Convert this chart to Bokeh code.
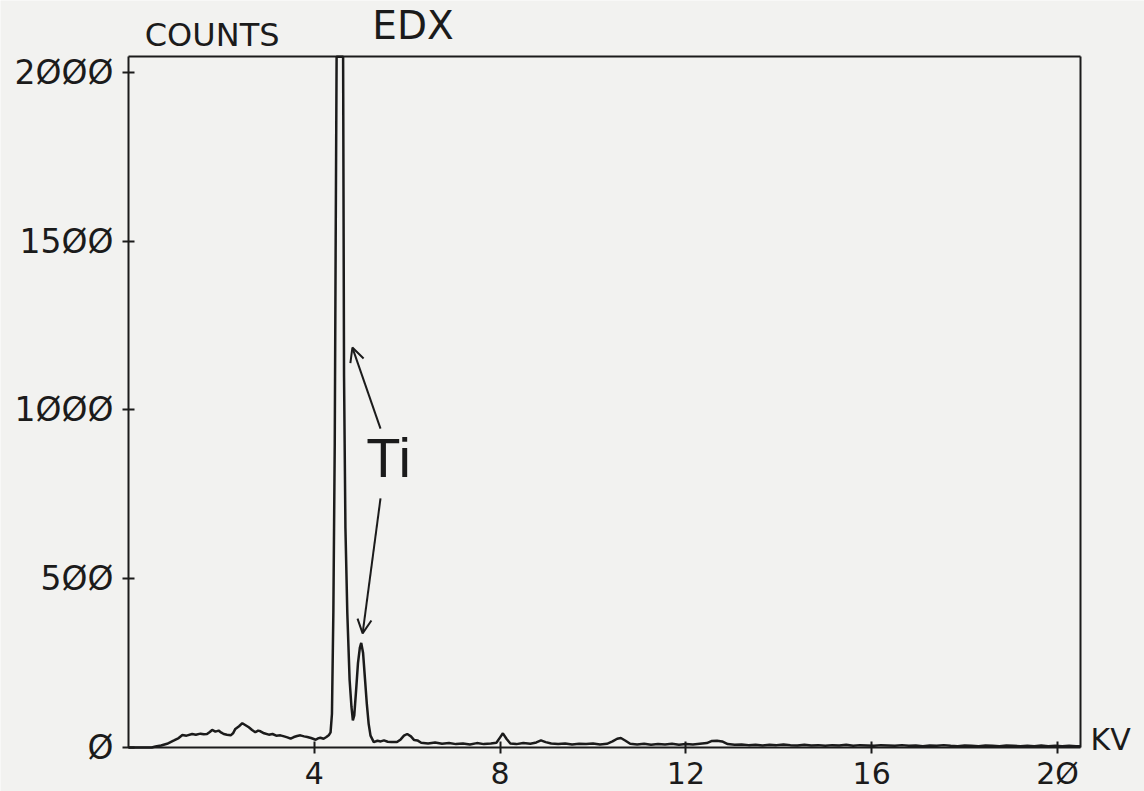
import numpy as np
from bokeh.plotting import figure
from bokeh.models import Label, Arrow, OpenHead, FixedTicker, LinearAxis
from bokeh.embed import file_html
from bokeh.resources import INLINE

# ---- data (energy in keV, counts) ----
energy = [0.0, 0.50, 0.58, 0.70, 0.83, 0.98, 1.08, 1.16, 1.25, 1.37, 1.45, 1.55, 1.62, 1.69,
          1.75, 1.80, 1.87, 1.94, 2.00, 2.05, 2.12, 2.20, 2.25, 2.30, 2.38, 2.45, 2.52, 2.59,
          2.66, 2.73, 2.79, 2.84, 2.92, 3.02, 3.10, 3.18, 3.27, 3.35, 3.42, 3.49, 3.56, 3.63,
          3.70, 3.78, 3.85, 3.93, 4.03, 4.08, 4.13, 4.20, 4.26, 4.31, 4.35, 4.38, 4.41, 4.44,
          4.46, 4.48, 4.55, 4.62, 4.64, 4.67, 4.71, 4.76, 4.80, 4.83, 4.86, 4.90, 4.94, 4.98,
          5.01, 5.05, 5.09, 5.13, 5.17, 5.21, 5.28, 5.36, 5.43, 5.50, 5.58, 5.66, 5.78, 5.86,
          5.93, 6.00, 6.08, 6.15, 6.22, 6.30, 6.45, 6.60, 6.75, 6.90, 7.05, 7.20, 7.35, 7.50,
          7.65, 7.80, 7.92, 8.00, 8.06, 8.14, 8.22, 8.35, 8.50, 8.65, 8.78, 8.88, 8.98, 9.10,
          9.25, 9.40, 9.55, 9.70, 9.85, 10.00, 10.15, 10.30, 10.42, 10.52, 10.60, 10.70, 10.80,
          10.95, 11.10, 11.25, 11.40, 11.55, 11.70, 11.85, 12.00, 12.15, 12.30, 12.45, 12.55,
          12.67, 12.78, 12.90, 13.05, 13.20, 13.35, 13.50, 13.65, 13.80, 13.95, 14.10, 14.25,
          14.40, 14.55, 14.70, 14.85, 15.00, 15.15, 15.30, 15.45, 15.60, 15.75, 15.90, 16.05,
          16.20, 16.35, 16.50, 16.65, 16.80, 16.95, 17.10, 17.25, 17.40, 17.55, 17.70, 17.85,
          18.00, 18.15, 18.30, 18.45, 18.60, 18.75, 18.90, 19.05, 19.20, 19.35, 19.50, 19.65,
          19.80, 19.95, 20.10, 20.25, 20.40, 20.50]
counts = [0, 0, 3, 6, 11, 21, 28, 37, 35, 40, 38, 41, 39, 40,
          46, 52, 47, 50, 44, 40, 38, 36, 42, 55, 63, 72, 66, 60,
          52, 45, 50, 48, 42, 38, 40, 35, 36, 33, 30, 26, 31, 34,
          36, 33, 31, 28, 23, 27, 29, 26, 31, 36, 45, 100, 400, 900,
          1500, 2400, 2800, 2300, 1100, 650, 400, 200, 120, 80, 95, 170, 250, 295,
          310, 280, 205, 130, 70, 35, 16, 20, 18, 21, 17, 16, 16, 24,
          35, 40, 33, 22, 21, 14, 12, 15, 11, 13, 10, 12, 9, 13,
          10, 12, 14, 30, 42, 25, 12, 10, 13, 11, 15, 21, 16, 12,
          10, 12, 9, 11, 10, 12, 9, 11, 18, 26, 28, 20, 11,
          9, 11, 8, 10, 9, 11, 8, 10, 9, 11, 13, 19,
          20, 18, 10, 8, 9, 7, 8, 6, 8, 7, 9, 7,
          6, 8, 6, 7, 5, 7, 6, 8, 5, 7, 6, 5,
          7, 6, 5, 7, 5, 6, 4, 6, 5, 7, 5, 4,
          6, 5, 4, 6, 5, 4, 6, 5, 4, 5, 4, 6,
          4, 5, 4, 5, 4, 4]

y_ticks = [0, 500, 1000, 1500, 2000]
y_tick_labels = ["Ø", "5ØØ", "1ØØØ", "15ØØ", "2ØØØ"]
x_ticks = [4, 8, 12, 16, 20]
x_tick_labels = ["4", "8", "12", "16", "2Ø"]

# plotted window of the instrument (keV, counts)
x_lo, x_hi = 0.0, 20.5
y_lo, y_hi = 0.0, 2047.0

# the recorder trace saturates at the top of the window
counts_shown = np.minimum(np.array(counts, dtype=float), y_hi)

INK = "#1b1b1b"
PAPER = "#f2f2f0"
FONT = "DejaVu Sans"

# frame covers the full canvas; axes are pinned inside with fixed_location
p = figure(width=1144, height=791, x_range=(-2.756, 21.873), y_range=(-130.4, 2213.3),
           output_backend="svg", toolbar_location=None,
           min_border_left=0, min_border_right=0, min_border_top=0, min_border_bottom=0)
p.background_fill_color = PAPER
p.border_fill_color = PAPER
p.outline_line_color = None
p.grid.grid_line_color = None

xa = p.xaxis[0]
ya = p.yaxis[0]
xa.fixed_location = y_lo
xa.bounds = (x_lo, x_hi)
ya.fixed_location = x_lo
ya.bounds = (y_lo, y_hi)

for ax in (xa, ya):
    ax.axis_line_color = INK
    ax.axis_line_width = 2
    ax.major_tick_line_color = INK
    ax.major_tick_line_width = 2
    ax.major_tick_in = 6
    ax.major_tick_out = 6
    ax.minor_tick_line_color = None
    ax.major_label_text_color = INK
    ax.major_label_text_font = FONT

ya.ticker = FixedTicker(ticks=y_ticks)
ya.major_label_overrides = {t: l for t, l in zip(y_ticks, y_tick_labels)}
ya.major_label_text_font_size = "33px"
ya.major_label_standoff = 9

xa.ticker = FixedTicker(ticks=x_ticks)
xa.major_label_overrides = {t: l for t, l in zip(x_ticks, x_tick_labels)}
xa.major_label_text_font_size = "30px"
xa.major_label_standoff = 3

# top and right edges of the box
top_ax = LinearAxis(fixed_location=y_hi, bounds=(x_lo, x_hi), ticker=FixedTicker(ticks=[]),
                    axis_line_color=INK, axis_line_width=2, major_tick_line_color=None,
                    minor_tick_line_color=None, major_label_text_color=None)
right_ax = LinearAxis(fixed_location=x_hi, bounds=(y_lo, y_hi), ticker=FixedTicker(ticks=[]),
                      axis_line_color=INK, axis_line_width=2, major_tick_line_color=None,
                      minor_tick_line_color=None, major_label_text_color=None)
p.add_layout(top_ax, "above")
p.add_layout(right_ax, "right")

p.line(energy, counts_shown, line_color=INK, line_width=2.5)

p.add_layout(Label(x=0.35, y=2112, text="COUNTS", text_font=FONT, text_font_size="32px",
                   text_color=INK, text_baseline="middle", text_align="left"))
p.add_layout(Label(x=5.25, y=2140, text="EDX", text_font=FONT, text_font_size="39px",
                   text_color=INK, text_baseline="middle", text_align="left"))
p.add_layout(Label(x=20.71, y=25, text="KV", text_font=FONT, text_font_size="30px",
                   text_color=INK, text_baseline="middle", text_align="left"))
p.add_layout(Label(x=5.12, y=859, text="Ti", text_font="Liberation Sans", text_font_size="56px",
                   text_color=INK, text_baseline="middle", text_align="left"))

p.add_layout(Arrow(end=OpenHead(size=14, line_width=2, line_color=INK),
                   x_start=5.425, y_start=945, x_end=4.82, y_end=1185,
                   line_color=INK, line_width=2))
p.add_layout(Arrow(end=OpenHead(size=14, line_width=2, line_color=INK),
                   x_start=5.425, y_start=738, x_end=5.04, y_end=338,
                   line_color=INK, line_width=2))

open("out.html", "w").write(file_html(p, INLINE))
